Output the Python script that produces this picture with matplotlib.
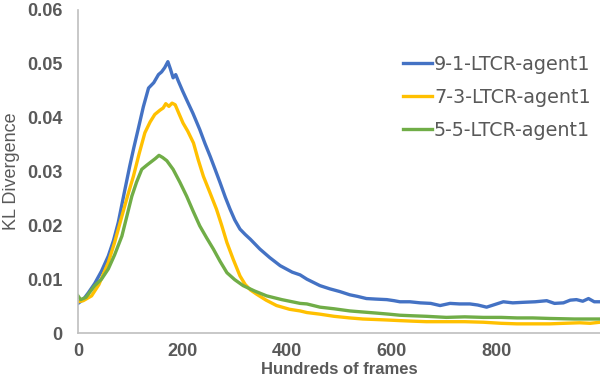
import matplotlib
matplotlib.use("Agg")
import matplotlib.pyplot as plt

# values (x in hundreds of frames)
blue_x = [0, 10, 20, 32, 45, 58, 68, 77, 88, 99, 107, 115, 125, 135, 145, 154, 160, 166, 172, 177,
          182, 187, 192, 200, 208, 220, 233, 243, 253, 262, 272, 282, 291, 300, 310, 320, 330, 348,
          367, 387, 410, 425, 438, 463, 482, 501, 520, 535, 552, 570, 591, 605, 616, 635, 655, 675,
          693, 712, 730, 750, 765, 782, 798, 814, 832, 852, 875, 897, 912, 929, 942, 954, 966, 977,
          988, 999]
blue_y = [0.0055, 0.0062, 0.0075, 0.0092, 0.0115, 0.0143, 0.0172, 0.0205, 0.0258, 0.0310, 0.0345,
          0.0378, 0.0420, 0.0455, 0.0465, 0.0480, 0.0485, 0.0493, 0.0504, 0.0490, 0.0474, 0.0480,
          0.0468, 0.0450, 0.0433, 0.0408, 0.0378, 0.0352, 0.0328, 0.0305, 0.0279, 0.0252, 0.0230,
          0.0210, 0.0193, 0.0183, 0.0174, 0.0156, 0.0140, 0.0125, 0.0113, 0.0108, 0.0100, 0.0088,
          0.0082, 0.0077, 0.0071, 0.0068, 0.0064, 0.0063, 0.0062, 0.0060, 0.0058, 0.0058, 0.0056,
          0.0055, 0.0051, 0.0055, 0.0054, 0.0054, 0.0052, 0.0048, 0.0053, 0.0058, 0.0056, 0.0057,
          0.0058, 0.0060, 0.0055, 0.0056, 0.0061, 0.0062, 0.0059, 0.0064, 0.0058, 0.0058]

yellow_x = [0, 10, 26, 40, 58, 70, 84, 95, 106, 117, 128, 138, 147, 157, 163, 168, 174, 180, 186,
            193, 201, 210, 221, 230, 240, 252, 265, 275, 285, 297, 310, 320, 330, 342, 360, 380,
            405, 425, 438, 463, 490, 520, 545, 571, 595, 616, 640, 667, 705, 740, 776, 810, 840,
            870, 903, 930, 960, 980, 999]
yellow_y = [0.0058, 0.0060, 0.0069, 0.0090, 0.0131, 0.0168, 0.0217, 0.0255, 0.0291, 0.0333, 0.0372,
            0.0392, 0.0406, 0.0414, 0.0418, 0.0426, 0.0421, 0.0427, 0.0424, 0.0408, 0.0390, 0.0375,
            0.0353, 0.0322, 0.0291, 0.0262, 0.0230, 0.0200, 0.0168, 0.0137, 0.0106, 0.0090, 0.0080,
            0.0072, 0.0061, 0.0051, 0.0044, 0.0041, 0.0038, 0.0035, 0.0031, 0.0028, 0.0026, 0.0025,
            0.0024, 0.0023, 0.0022, 0.0021, 0.0021, 0.0021, 0.0020, 0.0018, 0.0017, 0.0017, 0.0017,
            0.0018, 0.0019, 0.0018, 0.0020]

green_x = [0, 5, 15, 32, 45, 58, 70, 84, 93, 103, 112, 122, 132, 140, 148, 155, 162, 170, 182,
           195, 208, 220, 233, 246, 259, 272, 285, 300, 316, 338, 361, 390, 425, 438, 463, 490,
           520, 545, 571, 595, 616, 640, 667, 705, 740, 776, 810, 840, 870, 903, 950, 999]
green_y = [0.0069, 0.0062, 0.0066, 0.0088, 0.0100, 0.0119, 0.0145, 0.0180, 0.0215, 0.0254, 0.0280,
           0.0304, 0.0312, 0.0318, 0.0324, 0.0330, 0.0326, 0.0320, 0.0304, 0.0280, 0.0254, 0.0227,
           0.0199, 0.0177, 0.0156, 0.0133, 0.0112, 0.0099, 0.0088, 0.0078, 0.0069, 0.0062, 0.0055,
           0.0054, 0.0048, 0.0045, 0.0041, 0.0039, 0.0037, 0.0035, 0.0033, 0.0032, 0.0031, 0.0029,
           0.0030, 0.0029, 0.0029, 0.0028, 0.0028, 0.0027, 0.0026, 0.0026]

labels = ["9-1-LTCR-agent1", "7-3-LTCR-agent1", "5-5-LTCR-agent1"]
colors = ["#4472C4", "#FFC000", "#70AD47"]
x_ticks = [0, 200, 400, 600, 800]
y_ticks = [0, 0.01, 0.02, 0.03, 0.04, 0.05, 0.06]
y_tick_labels = ["0", "0.01", "0.02", "0.03", "0.04", "0.05", "0.06"]

text_color = "#595959"

fig = plt.figure(figsize=(6, 3.78), dpi=100)
ax = fig.add_axes([78 / 600, 1 - 333 / 378, 1 - 78 / 600, 323 / 378])

series = [(blue_x, blue_y), (yellow_x, yellow_y), (green_x, green_y)]
for (xs, ys), lab, col in zip(series, labels, colors):
    ax.plot(xs, ys, color=col, linewidth=2.4, label=lab)

ax.set_xlim(0, 999)
ax.set_ylim(0, 0.06)
ax.set_xticks(x_ticks)
ax.set_yticks(y_ticks)
ax.set_yticklabels(y_tick_labels)

for s in ["top", "right"]:
    ax.spines[s].set_visible(False)
for s in ["left", "bottom"]:
    ax.spines[s].set_color("#BFBFBF")
    ax.spines[s].set_linewidth(1.2)

ax.tick_params(axis="both", length=0, colors=text_color)
ax.tick_params(axis="y", pad=11)
ax.tick_params(axis="x", pad=7)
for t in ax.get_xticklabels() + ax.get_yticklabels():
    t.set_fontfamily("Liberation Sans")
    t.set_fontweight("bold")
    t.set_fontsize(13)

# x label sits right at the bottom edge, like the reference
fig.text(0.5 * (1 + 78 / 600), 1.5 / 378, "Hundreds of frames", ha="center", va="bottom",
         fontsize=12, fontweight="bold", family="Liberation Sans", color=text_color)
ax.set_ylabel("KL Divergence", fontsize=13, family="Liberation Sans", color=text_color)
ax.yaxis.set_label_coords(-0.112, 0.5)

leg = ax.legend(loc="upper left", bbox_to_anchor=(403 / 600, 1 - 55 / 378),
                bbox_transform=fig.transFigure, frameon=False, borderpad=0,
                borderaxespad=0, handlelength=1.5, handletextpad=0.12,
                labelspacing=0.72, prop={"family": "DejaVu Sans", "size": 13.8})
for t in leg.get_texts():
    t.set_color(text_color)

fig.savefig("out.png", dpi=100)
